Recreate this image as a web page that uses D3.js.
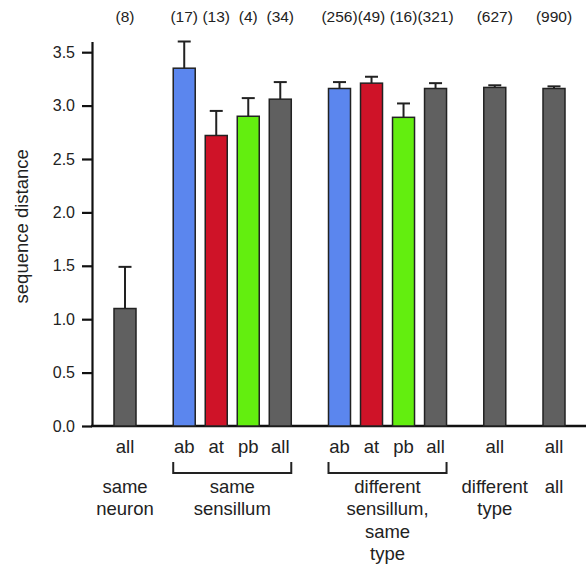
<!DOCTYPE html>
<html>
<head>
<meta charset="utf-8">
<script src="https://cdn.jsdelivr.net/npm/d3@7"></script>
<style>
  body { margin: 0; background: #fff; }
  svg text { font-family: "Liberation Sans", Arial, Helvetica, sans-serif; fill: #222; }
</style>
</head>
<body>
<div id="chart"></div>
<script>
// bar data, left to right
const labels = ["all", "ab", "at", "pb", "all", "ab", "at", "pb", "all", "all", "all"];
const slots  = [0, 1.85, 2.85, 3.85, 4.85, 6.7, 7.7, 8.7, 9.7, 11.55, 13.4];
const means  = [1.10, 3.35, 2.72, 2.90, 3.06, 3.16, 3.21, 2.89, 3.16, 3.17, 3.16];
const sems   = [0.39, 0.25, 0.23, 0.17, 0.16, 0.06, 0.06, 0.13, 0.05, 0.02, 0.02];
const counts = [8, 17, 13, 4, 34, 256, 49, 16, 321, 627, 990];
const yTicks = [0, 0.5, 1.0, 1.5, 2.0, 2.5, 3.0, 3.5];

// group captions under the bars (first and last bar index)
const groupNames = [["same", "neuron"], ["same", "sensillum"], ["different", "sensillum,", "same", "type"], ["different", "type"], ["all"]];
const groupFrom  = [0, 1, 5, 9, 10];
const groupTo    = [0, 4, 8, 9, 10];
const groupBracket = [false, true, true, false, false];

const colors = { ab: "#5b86ee", at: "#cf1328", pb: "#63ee0f", all: "#606060" };

const W = 586, H = 569;
const svg = d3.select("#chart").append("svg")
    .attr("width", W)
    .attr("height", H);

const axisX = 92, baseY = 426;

const y = d3.scaleLinear().domain([0, 3.6]).range([baseY, 41.5]);
const x = d3.scaleLinear().domain([0, 13.4]).range([125, 554]);
const barW = 22;

// Y axis
const yAxis = svg.append("g")
    .attr("transform", `translate(${axisX},0)`)
    .call(d3.axisLeft(y).tickValues(yTicks).tickFormat(d3.format(".1f"))
        .tickSize(10).tickSizeOuter(0).tickPadding(7));
yAxis.selectAll("path, line").attr("stroke", "#111").attr("stroke-width", 2.2);
yAxis.selectAll("text").style("font-size", "16px").attr("fill", "#222");

// baseline, runs to right edge
svg.append("line")
    .attr("x1", axisX - 1).attr("x2", W)
    .attr("y1", baseY).attr("y2", baseY)
    .attr("stroke", "#111").attr("stroke-width", 2.5);

// y label
svg.append("text")
    .attr("transform", `translate(28,${y(1.87)}) rotate(-90)`)
    .attr("text-anchor", "middle")
    .style("font-size", "18.5px")
    .text("sequence distance");

const idx = d3.range(labels.length);

// error bars (upper only)
svg.append("g").selectAll("g")
    .data(idx)
    .enter()
    .append("g")
    .each(function(i) {
        const g = d3.select(this);
        const cx = x(slots[i]);
        g.append("line")
            .attr("x1", cx).attr("x2", cx)
            .attr("y1", y(means[i])).attr("y2", y(means[i] + sems[i]))
            .attr("stroke", "#222").attr("stroke-width", 2);
        g.append("line")
            .attr("x1", cx - 6.5).attr("x2", cx + 6.5)
            .attr("y1", y(means[i] + sems[i])).attr("y2", y(means[i] + sems[i]))
            .attr("stroke", "#222").attr("stroke-width", 2);
    });

// bars
svg.append("g").selectAll("rect")
    .data(idx)
    .enter()
    .append("rect")
    .attr("x", i => x(slots[i]) - barW / 2)
    .attr("y", i => y(means[i]))
    .attr("width", barW)
    .attr("height", i => baseY - y(means[i]))
    .attr("fill", i => colors[labels[i]])
    .attr("stroke", "#222")
    .attr("stroke-width", 1.5);

// counts on top
svg.append("g").selectAll("text")
    .data(idx)
    .enter()
    .append("text")
    .attr("x", i => x(slots[i]))
    .attr("y", 22)
    .attr("text-anchor", "middle")
    .style("font-size", "15.5px")
    .text(i => `(${counts[i]})`);

// category labels
svg.append("g").selectAll("text")
    .data(idx)
    .enter()
    .append("text")
    .attr("x", i => x(slots[i]))
    .attr("y", 453)
    .attr("text-anchor", "middle")
    .style("font-size", "18.5px")
    .text(i => labels[i]);

// brackets and group captions
groupNames.forEach((lines, k) => {
    const x0 = x(slots[groupFrom[k]]) - barW / 2;
    const x1 = x(slots[groupTo[k]]) + barW / 2;
    if (groupBracket[k]) {
        svg.append("path")
            .attr("d", `M${x0},462 V473 H${x1} V462`)
            .attr("fill", "none")
            .attr("stroke", "#222")
            .attr("stroke-width", 2);
    }
    const t = svg.append("text")
        .attr("text-anchor", "middle")
        .style("font-size", "18.5px");
    lines.forEach((s, j) => {
        t.append("tspan")
            .attr("x", (x0 + x1) / 2)
            .attr("y", 493 + j * 22.4)
            .text(s);
    });
});
</script>
</body>
</html>
